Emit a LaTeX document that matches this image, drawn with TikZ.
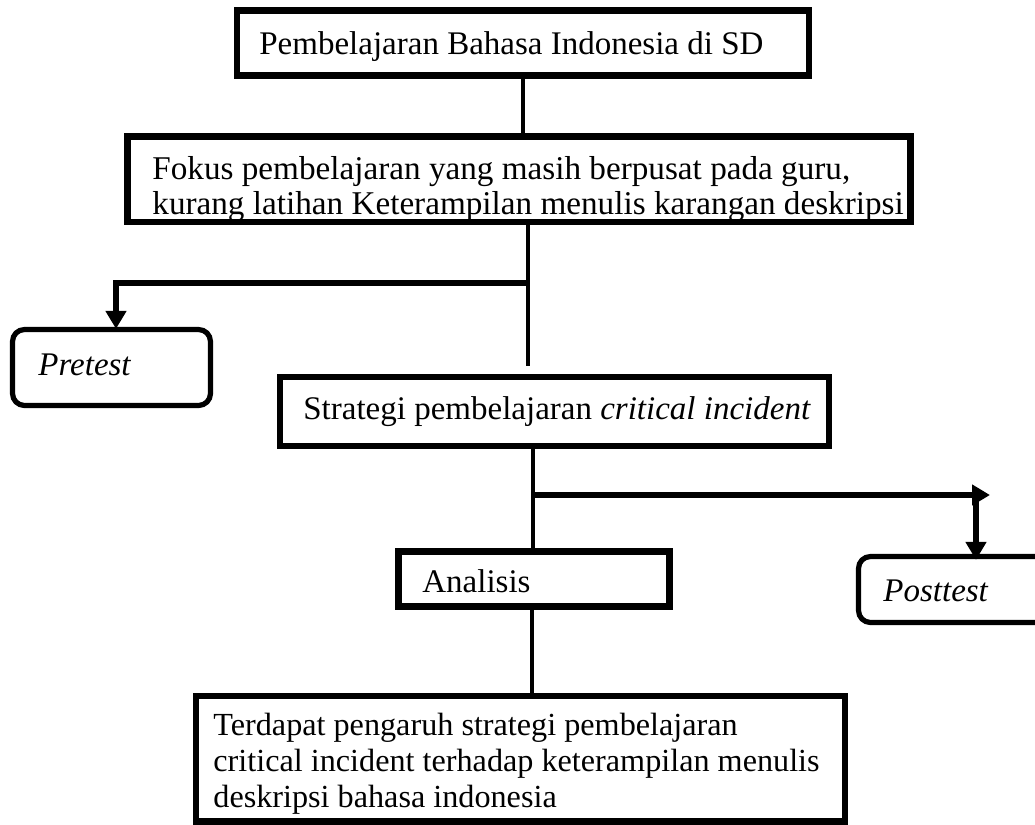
\documentclass[tikz,border=0pt]{standalone}
\usepackage{fontspec}
\setmainfont{Liberation Serif}
\usetikzlibrary{arrows.meta,fit}
\newcommand{\fsz}{\fontsize{16.5}{17.75}\selectfont}
\newcommand{\fszb}{\fontsize{16.6}{17.5}\selectfont}
\newcommand{\fszc}{\fontsize{16.1}{18}\selectfont}
\begin{document}
\begin{tikzpicture}[x=0.5pt,y=-0.5pt,
  rbox/.style={draw=black,line width=3.25pt,inner sep=0pt,fill=none},
  obox/.style={draw=black,line width=2.6pt,inner sep=0pt,rounded corners=6pt},
  txt/.style={inner sep=0pt,font=\fsz,align=left},
  thin/.style={line width=2pt},
  arrowline/.style={line width=3pt,-{Triangle[length=9pt,width=10pt]}},
  plainline/.style={line width=3pt}]
\clip (0,0) rectangle (1035,825);
\fill[white] (0,0) rectangle (1035,825);

% texts (base west = baseline of the last line)
\node[txt,anchor=base west] (t1) at (259,54) {Pembelajaran Bahasa Indonesia di SD};
\node[txt,font=\fszb,anchor=base west] (t2) at (152,214) {Fokus pembelajaran yang masih berpusat pada guru,\\kurang latihan Keterampilan menulis karangan deskripsi};
\node[txt,anchor=base west] (t3) at (38,375) {\itshape Pretest};
\node[txt,anchor=base west] (t4) at (303,419) {Strategi pembelajaran \textit{critical incident}};
\node[txt,anchor=base west] (t5) at (422,592) {Analisis};
\node[txt,anchor=base west] (t6) at (883,601) {\itshape Posttest};
\node[txt,font=\fszc,anchor=base west] (t7) at (213,807) {Terdapat pengaruh strategi pembelajaran\\critical incident terhadap keterampilan menulis\\deskripsi bahasa indonesia};

% boxes
\node[rbox,fit={(237,10.5) (809,75.5)}] (n1) {};
\node[rbox,fit={(127.5,136.5) (910.5,222)}] (n2) {};
\node[obox,fit={(12.5,329.5) (210.5,405.5)}] (pre) {};
\node[rbox,fit={(280,377) (829,446)}] (n3) {};
\node[rbox,fit={(398.5,551.5) (669.5,606.5)}] (n4) {};
\node[obox,fit={(858.5,556.5) (1060,622.5)}] (post) {};
\node[rbox,fit={(196,696) (845,821.5)}] (n5) {};

% connectors
\coordinate (c0) at (523,0);
\coordinate (j1) at (528,283);
\coordinate (pa) at (116,0);
\coordinate (j2) at (533,495);
\coordinate (tipR) at (990,495);
\coordinate (pb) at (976,495);
\coordinate (c5) at (532,0);

\draw[thin] (n1.south -| c0) -- (n2.north -| c0);
\draw[thin,shorten >=4pt] (n2.south -| j1) -- (n3.north -| j1);
\draw[plainline] (j1) -| ([yshift=8pt]pre.north -| pa);
\draw[arrowline] ([yshift=9pt]pre.north -| pa) -- ([yshift=-1pt]pre.north -| pa);
\draw[thin,shorten >=-2pt] (n3.south -| j2) -- (n4.north -| j2);
\draw[arrowline] (j2) -- (tipR);
\draw[arrowline,shorten >=-3pt] (pb) -- (post.north -| pb);
\draw[thin] (n4.south -| c5) -- (n5.north -| c5);
\end{tikzpicture}
\end{document}
